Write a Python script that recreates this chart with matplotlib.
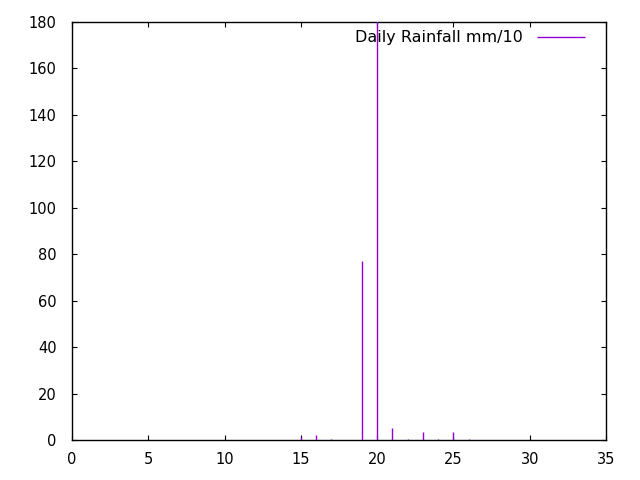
import matplotlib
matplotlib.use('Agg')
import matplotlib.pyplot as plt

# daily rainfall, mm/10
days = [15, 16, 17, 19, 20, 21, 22, 23, 24, 25, 26]
rain = [1.2, 2.0, 0.5, 77, 200, 5.0, 0.5, 3.6, 0.5, 3.6, 0.5]

plt.rcParams['font.family'] = 'DejaVu Sans'
plt.rcParams['font.size'] = 10.5

fig = plt.figure(figsize=(6.4, 4.8), dpi=100)
ax = fig.add_axes([72 / 640, 40 / 480, 534 / 640, 418 / 480])

ax.vlines(days, 0, rain, color='#9400d3', linewidth=1.0, label='Daily Rainfall mm/10', zorder=3)

ax.set_xlim(0, 35)
ax.set_ylim(0, 180)
ax.set_xticks(range(0, 36, 5))
ax.set_yticks(range(0, 181, 20))
ax.tick_params(direction='in', top=True, right=True, length=3.5, width=0.8, colors='black')
ax.tick_params(axis='x', pad=9)
ax.tick_params(axis='y', pad=11)
for s in ax.spines.values():
    s.set_linewidth(1.0)

leg = ax.legend(loc='upper right', bbox_to_anchor=(0.9727, 0.995), frameon=False,
                markerfirst=False, handlelength=3.0, handletextpad=0.875,
                borderaxespad=0.0, borderpad=0.4, fontsize=11.5)

fig.savefig('out.png', dpi=100)
